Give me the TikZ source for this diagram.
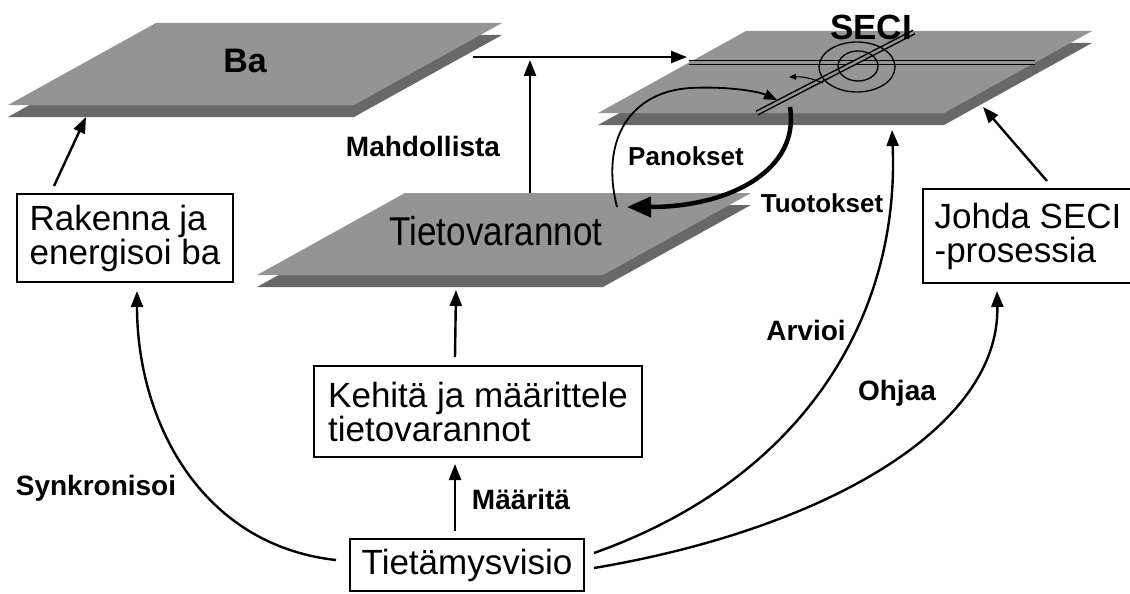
\documentclass[tikz,border=0pt]{standalone}
\usepackage{fontspec}
\setmainfont{Liberation Sans}
\usetikzlibrary{arrows.meta,calc}
\definecolor{planetop}{RGB}{148,148,148}
\definecolor{planeside}{RGB}{104,104,104}
% a thin layered plane; #1,#2 = lower left corner of the top face
\newcommand\knowplane[2]{%
  \fill[planeside] (#1,#2+12) -- ++(346,0) -- ++(148,-82) -- ++(-346,0) -- cycle;
  \fill[planetop] (#1,#2) -- ++(346,0) -- ++(148,-82) -- ++(-346,0) -- cycle;
}
\begin{document}
\begin{tikzpicture}[x=1pt,y=-1pt,
  box/.style={draw,line width=2pt,inner sep=0pt,align=left,
    font=\fontsize{35}{34}\selectfont},
  verb/.style={font=\bfseries\fontsize{28}{28}\selectfont,inner sep=0pt,anchor=base},
  title/.style={font=\bfseries\fontsize{34}{34}\selectfont,inner sep=0pt,anchor=base},
  conn/.style={line width=2.4pt,-{Triangle[length=16pt,width=12pt]}},
  thinconn/.style={line width=1.8pt,-{Triangle[length=13pt,width=10pt]}},
  thickconn/.style={line width=4.5pt,-{Triangle[length=24pt,width=20pt]}},
  axis/.style={double=planetop,double distance=2.4pt,line width=1.5pt},
]
\useasboundingbox (0,0) rectangle (1130,594);

% planes
\knowplane{8}{105}
\knowplane{257}{275}
\knowplane{598}{113}

% SECI markings on the plane
\draw[axis] (689,62.5) -- (1035,62.5);
\draw[axis] (757,113) -- (914,32);
\draw[line width=1.3pt] (857,67) ellipse [x radius=38, y radius=25];
\draw[line width=1.3pt] (858,66) ellipse [x radius=20, y radius=15];
\coordinate (spinA) at (823,83);
\coordinate (spinB) at (789,77);
\draw[line width=1.1pt,-{Triangle[length=7pt,width=6pt]}] (spinA) to[bend right=12] (spinB);

% plane titles
\node[title] (ba) at (245,73) {Ba};
\node[title,font=\bfseries\fontsize{35}{35}\selectfont] (seci) at (871,40) {SECI};
\node[inner sep=0pt,anchor=base,font=\fontsize{35}{35}\selectfont] (tv) at (496,245)
  {\scalebox{1}[1.15]{Tietovarannot}};

% boxes
\node[box,minimum width=216pt,minimum height=88pt] (rak) at (125,238)
  {Rakenna ja\\energisoi ba};
\node[box,minimum width=210pt,minimum height=94pt] (joh) at (1028,236)
  {Johda SECI\\-prosessia};
\node[box,minimum width=328pt,minimum height=91pt] (keh) at (478,411.5)
  {Kehitä ja määrittele\\tietovarannot};
\node[box,minimum width=234pt,minimum height=52pt] (vis) at (467,565)
  {Tietämysvisio};

% anchor points on the planes
\coordinate (baBot) at (86,117);
\coordinate (baOut) at (473,57);
\coordinate (seciIn) at (687,57);
\coordinate (joinPt) at (530,60);
\coordinate (tvTop) at (530,193);
\coordinate (tvBot) at (456,290);
\coordinate (seciBot) at (892,130);
\coordinate (seciSide) at (983,107);
\coordinate (panStart) at (617,207);
\coordinate (panEnd) at (777,100);
\coordinate (tuoStart) at (790,107);
\coordinate (tuoEnd) at (627,207);

% connectors
\draw[conn] ($(rak.north west)+(38,-7)$) -- (baBot);
\draw[conn] (baOut) -- (seciIn);
\draw[conn] (tvTop) -- (joinPt);
\draw[conn] ($(keh.north west)+(142,-8)$) -- (tvBot);
\draw[conn] ($(vis.north west)+(106,-7)$) -- ($(keh.south west)+(142,6)$);
\draw[conn] ($(vis.west)+(-13,-5)$) .. controls (200,545) and (137,420) .. ($(rak.south)+(12,8)$);
\draw[conn] ($(vis.east)+(9,-12)$) .. controls (800,480) and (900,320) .. (seciBot);
\draw[conn] ($(vis.east)+(9,3)$) .. controls (820,530) and (1000,430) .. ($(joh.south west)+(75,7)$);
\draw[conn] ($(joh.north west)+(125,-7)$) -- (seciSide);
\draw[thinconn] (panStart) .. controls (600,140) and (630,92) .. (690,88)
  .. controls (730,86) and (760,92) .. (panEnd);
\draw[thickconn] (tuoStart) .. controls (800,170) and (730,207) .. (tuoEnd);

% connector labels
\node[verb] (mah) at (423,156) {Mahdollista};
\node[verb,font=\bfseries\fontsize{26}{26}\selectfont] (pan) at (686,165) {Panokset};
\node[verb,font=\bfseries\fontsize{26}{26}\selectfont] (tuo) at (822,212) {Tuotokset};
\node[verb] (arv) at (806,340) {Arvioi};
\node[verb] (ohj) at (897,400) {Ohjaa};
\node[verb] (syn) at (96,495) {Synkronisoi};
\node[verb] (maa) at (521,509) {Määritä};
\end{tikzpicture}
\end{document}
